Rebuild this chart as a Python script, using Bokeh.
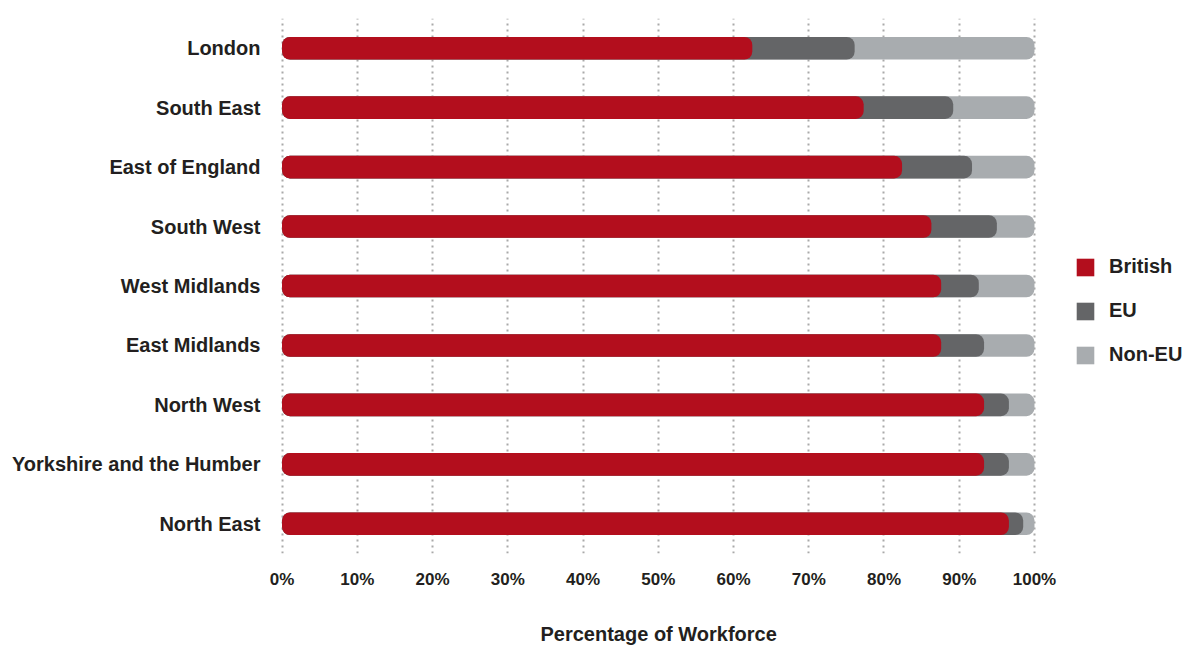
import numpy as np
from bokeh.plotting import figure
from bokeh.models import ColumnDataSource, Range1d, FactorRange, Legend, LegendItem, FixedTicker, CustomJSTickFormatter, Title
from bokeh.embed import file_html
from bokeh.resources import INLINE

regions = ["London", "South East", "East of England", "South West", "West Midlands",
           "East Midlands", "North West", "Yorkshire and the Humber", "North East"]
british = [62.5, 77.3, 82.4, 86.3, 87.6, 87.6, 93.3, 93.3, 96.6]
eu = [13.6, 11.9, 9.3, 8.7, 5.0, 5.7, 3.3, 3.3, 1.9]
non_eu = [23.9, 10.8, 8.3, 5.0, 7.4, 6.7, 3.4, 3.4, 1.5]
series = ["British", "EU", "Non-EU"]
colors = ["#b30e1d", "#646567", "#a8acaf"]
x_ticks = [0, 10, 20, 30, 40, 50, 60, 70, 80, 90, 100]
x_title = "Percentage of Workforce"

b = np.array(british)
e = b + np.array(eu)
n = e + np.array(non_eu)

src = ColumnDataSource(dict(region=regions, british=b, eu=e, total=n))

FONT = "Liberation Sans"
TXT = "#231f20"

p = figure(frame_width=918, frame_height=535, output_backend="svg", toolbar_location=None,
           y_range=FactorRange(*reversed(regions), range_padding=0),
           x_range=Range1d(-1, 121),
           min_border_left=274, min_border_right=0, min_border_top=18, min_border_bottom=0)

renderers = []
for col, c in zip(["total", "eu", "british"], colors[::-1]):
    r = p.hbar(y="region", left=0, right=col, height=0.38, source=src, fill_color=c,
               line_color=None, border_radius=8)
    renderers.append(r)
renderers = renderers[::-1]

p.outline_line_color = None
p.background_fill_color = "white"
p.border_fill_color = "white"

p.ygrid.grid_line_color = None
p.xgrid.grid_line_color = "#a9a9a9"
p.xgrid.grid_line_width = 2
p.xgrid.grid_line_dash = "2 4"
p.xgrid.ticker = FixedTicker(ticks=x_ticks)

p.xaxis.ticker = FixedTicker(ticks=x_ticks)
p.xaxis.formatter = CustomJSTickFormatter(code="return tick + '%'")
for ax in [p.xaxis[0], p.yaxis[0]]:
    ax.axis_line_color = None
    ax.major_tick_line_color = None
    ax.minor_tick_line_color = None
    ax.major_tick_out = 0
    ax.minor_tick_out = 0
    ax.major_label_text_font = FONT
    ax.major_label_text_font_style = "bold"
    ax.major_label_text_color = TXT

p.yaxis.major_label_text_font_size = "20px"
p.yaxis.major_label_standoff = 14
p.xaxis.major_label_text_font_size = "17px"
p.xaxis.major_label_standoff = 16

title = Title(text=x_title, align="left", offset=266, standoff=59,
              text_font=FONT, text_font_style="bold", text_font_size="20px",
              text_color=TXT)
p.add_layout(title, "below")

legend = Legend(items=[LegendItem(label=s, renderers=[r]) for s, r in zip(series, renderers)],
                location=(800, 187), orientation="vertical",
                glyph_width=22, glyph_height=22, label_height=22, spacing=21,
                padding=0, margin=0, label_standoff=13,
                label_text_font=FONT, label_text_font_style="bold",
                label_text_font_size="20px", label_text_color=TXT,
                border_line_color=None, background_fill_alpha=0)
p.add_layout(legend, "center")

open("out.html", "w").write(file_html(p, INLINE))
